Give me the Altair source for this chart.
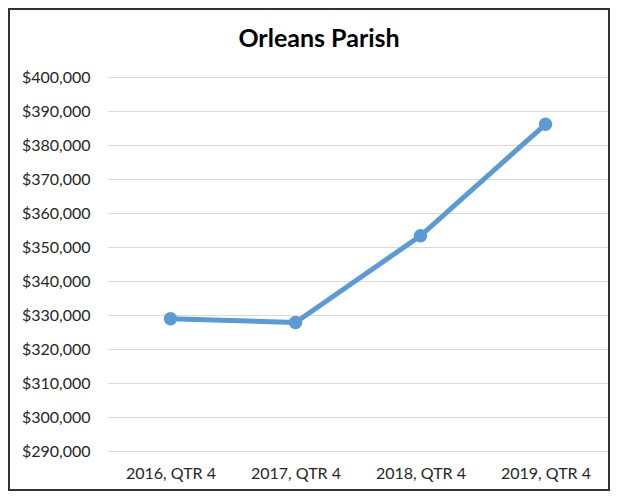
import altair as alt
import pandas as pd

quarters = ["2016, QTR 4", "2017, QTR 4", "2018, QTR 4", "2019, QTR 4"]
prices = [328900, 327800, 353300, 386100]
y_ticks = [290000, 300000, 310000, 320000, 330000, 340000, 350000,
           360000, 370000, 380000, 390000, 400000]

df = pd.DataFrame({"quarter": quarters, "price": prices})

LABEL = "#262626"
BLUE = "#5B9BD5"

x = alt.X(
    "quarter:N", sort=quarters,
    scale=alt.Scale(type="point", padding=0.5),
    axis=alt.Axis(title=None, labelAngle=0, ticks=False, domain=False, grid=False,
                  labelFont="Lato", labelFontSize=16, labelColor=LABEL, labelPadding=14),
)
y = alt.Y(
    "price:Q",
    scale=alt.Scale(domain=[290000, 400000], nice=False, zero=False),
    axis=alt.Axis(title=None, values=y_ticks, format="$,.0f", ticks=False, domain=False,
                  grid=True, gridColor="#D9D9D9", gridWidth=1,
                  labelFont="Lato", labelFontSize=16, labelPadding=18, labelColor=LABEL),
)

line = alt.Chart(df).mark_line(color=BLUE, strokeWidth=5).encode(x=x, y=y)
pts = alt.Chart(df).mark_point(filled=True, size=180, color=BLUE, opacity=1).encode(x=x, y=y)
frame = alt.Chart(alt.Data(values=[{}])).mark_rect(
    fillOpacity=0, stroke="#333333", strokeWidth=2
).encode(
    x=alt.value(-99), x2=alt.value(501), y=alt.value(-68), y2=alt.value(413)
)

chart = alt.layer(line, pts, frame).properties(
    width=500,
    height=374,
    autosize=alt.AutoSizeParams(type="none"),
    padding={"left": 100, "top": 69, "right": 2, "bottom": 40},
    title=alt.TitleParams("Orleans Parish", font="Lato", fontSize=25, fontWeight="bold",
                          color="#000000", anchor="middle", dx=-39, dy=64, offset=0,
                          baseline="alphabetic"),
).configure_view(stroke=None)

chart.save("out.html", embed_options={"renderer": "svg", "actions": False})
